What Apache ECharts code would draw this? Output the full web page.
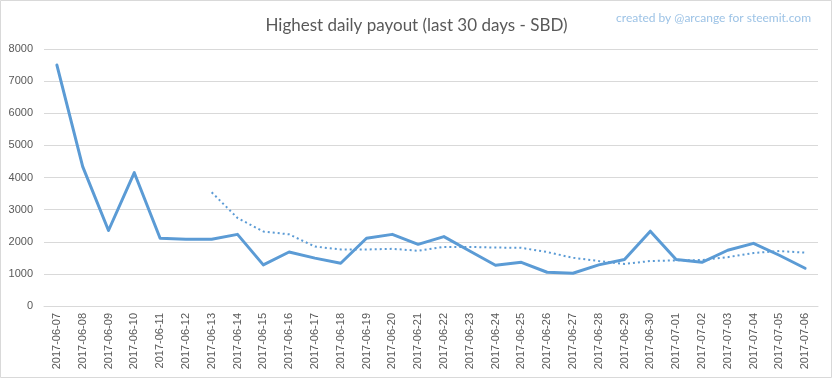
<!DOCTYPE html>
<html>
<head>
<meta charset="utf-8">
<script src="https://cdn.jsdelivr.net/npm/echarts@6/dist/echarts.min.js"></script>
<style>
html,body{margin:0;padding:0;background:#fff;}
#chart{width:833px;height:379px;}
</style>
</head>
<body>
<div id="chart"></div>
<script>
const titleText = 'Highest daily payout (last 30 days - SBD)';
const creditText = 'created by @arcange for steemit.com';
const dates = ['2017-06-07','2017-06-08','2017-06-09','2017-06-10','2017-06-11','2017-06-12','2017-06-13','2017-06-14','2017-06-15','2017-06-16','2017-06-17','2017-06-18','2017-06-19','2017-06-20','2017-06-21','2017-06-22','2017-06-23','2017-06-24','2017-06-25','2017-06-26','2017-06-27','2017-06-28','2017-06-29','2017-06-30','2017-07-01','2017-07-02','2017-07-03','2017-07-04','2017-07-05','2017-07-06'];
const dailyPayout = [7500,4340,2350,4150,2110,2080,2080,2230,1280,1680,1490,1330,2110,2230,1920,2160,1710,1270,1360,1050,1020,1280,1450,2330,1450,1360,1735,1950,1580,1175];
const movingAvg = ['-','-','-','-','-','-',3540,2740,2320,2230,1850,1760,1760,1780,1720,1840,1840,1820,1810,1680,1500,1400,1310,1400,1420,1430,1520,1650,1710,1660];
const yTicks = {min:0, max:8000, interval:1000};

const chart = echarts.init(document.getElementById('chart'), null, {renderer:'canvas'});
chart.setOption({
  backgroundColor:'#ffffff',
  animation:false,
  title:[
    {text:titleText, left:'center', top:12, textStyle:{fontFamily:'Lato, "Open Sans", sans-serif', fontSize:17, fontWeight:'normal', color:'#595959'}},
    {text:creditText, right:17, top:7, textStyle:{fontFamily:'Lato, "Open Sans", sans-serif', fontSize:12, fontWeight:'normal', color:'#9DC3E6'}}
  ],
  graphic:[{type:'rect', shape:{x:0.5,y:0.5,width:831,height:377}, style:{fill:'none', stroke:'#D9D9D9', lineWidth:1}, silent:true, z:-1}],
  grid:{left:44, right:15, top:49, bottom:73, containLabel:false},
  xAxis:{
    type:'category', data:dates, boundaryGap:true,
    axisLine:{lineStyle:{color:'#D9D9D9'}},
    axisTick:{show:false},
    axisLabel:{rotate:90, margin:7, interval:0, fontFamily:'"Liberation Sans", Arial, sans-serif', fontSize:11, color:'#595959'}
  },
  yAxis:{
    type:'value', min:yTicks.min, max:yTicks.max, interval:yTicks.interval,
    axisLine:{show:false}, axisTick:{show:false},
    splitLine:{lineStyle:{color:'#D9D9D9'}},
    axisLabel:{margin:11, formatter:function(v){return String(v);}, fontFamily:'"Liberation Sans", Arial, sans-serif', fontSize:11, color:'#595959'}
  },
  series:[
    {type:'line', data:dailyPayout, showSymbol:false, symbol:'none', lineStyle:{color:'#5B9BD5', width:3, join:'round', cap:'round'}, itemStyle:{color:'#5B9BD5'}, z:3},
    {type:'line', data:movingAvg, showSymbol:false, symbol:'none', lineStyle:{color:'#5B9BD5', width:2, type:[2,3]}, itemStyle:{color:'#5B9BD5'}, z:2}
  ]
});
</script>
</body>
</html>
